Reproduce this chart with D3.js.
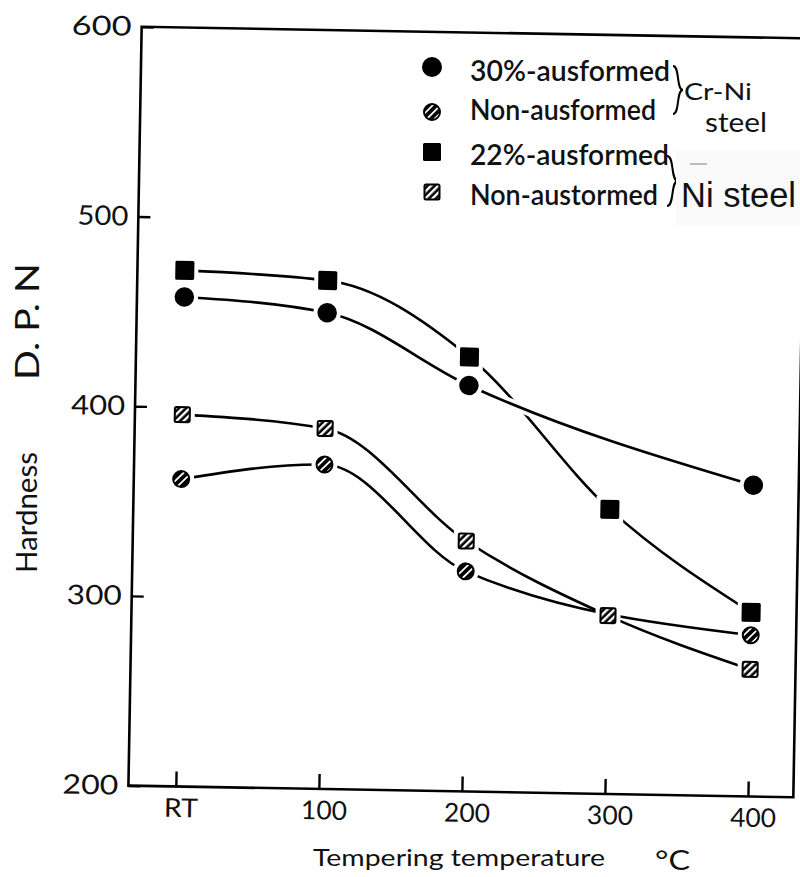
<!DOCTYPE html>
<html>
<head>
<meta charset="utf-8">
<script src="https://cdn.jsdelivr.net/npm/d3@7"></script>
<style>
  html, body { margin: 0; padding: 0; background: #fff; }
  text { font-family: Lato, "DejaVu Sans", sans-serif; fill: #111; }
</style>
</head>
<body>
<script>
// Tempering temperatures (RT = room temperature)
const categories = ["RT", "100", "200", "300", "400"];
const yTicks = [200, 300, 400, 500, 600];

// Hardness, D.P.N (null = not measured)
const crNiAusformed = [458, 451, 414, null, 364];  // 30%-ausformed Cr-Ni steel
const crNiNon       = [362, 371, 316, null, 285];  // non-ausformed Cr-Ni steel
const niAusformed   = [472, 468, 429, 350, 297];   // 22%-ausformed Ni steel
const niNon         = [396, 390, 332, 294, 267];   // non-ausformed Ni steel

const legendLabels = ["30%-ausformed", "Non-ausformed", "22%-ausformed", "Non-austormed"];
const groupLabels  = ["Cr-Ni", "steel", "Ni steel"];

const W = 800, H = 877;
const svg = d3.select("body").append("svg").attr("width", W).attr("height", H);
svg.append("rect").attr("width", W).attr("height", H).attr("fill", "#fff");

// hatch fills
const defs = svg.append("defs");
function hatch(id, period, white) {
  const p = defs.append("pattern").attr("id", id)
    .attr("patternUnits", "userSpaceOnUse")
    .attr("width", period).attr("height", period)
    .attr("patternTransform", "rotate(45)");
  p.append("rect").attr("width", period).attr("height", period).attr("fill", "#000");
  p.append("rect").attr("x", 0).attr("width", white).attr("height", period).attr("fill", "#fff");
}
hatch("hatchCircle", 5.5, 1.8);
hatch("hatchSquare", 5, 2.4);

// plot frame, slightly tilted
const frame = { left: 135, right: 800, top: 32.5, bottom: 791.5 };
const g = svg.append("g").attr("transform", "rotate(1,468,411.5)");

const x = d3.scalePoint().domain(categories).range([182.4, 754.6]);
const y = d3.scaleLinear().domain([200, 600]).range([frame.bottom, frame.top]);

g.append("rect")
  .attr("x", frame.left).attr("y", frame.top)
  .attr("width", frame.right - frame.left).attr("height", frame.bottom - frame.top)
  .attr("fill", "none").attr("stroke", "#000").attr("stroke-width", 2.6);

// y axis
const yAxis = g.append("g").attr("transform", `translate(${frame.left},0)`)
  .call(d3.axisLeft(y).tickValues(yTicks).tickFormat(d3.format("d")).tickSize(-12).tickPadding(10));
yAxis.select(".domain").remove();
yAxis.selectAll(".tick line").attr("stroke", "#000").attr("stroke-width", 2.4);
const yLen = { 200: 56, 300: 55, 400: 54, 500: 51, 600: 60 };
yAxis.selectAll(".tick text")
  .style("font-family", "Lato, sans-serif").attr("font-size", 27).attr("fill", "#111")
  .attr("textLength", d => yLen[d]).attr("lengthAdjust", "spacingAndGlyphs");

// x axis
const xAxis = g.append("g").attr("transform", `translate(0,${frame.bottom})`)
  .call(d3.axisBottom(x).tickSize(-15).tickPadding(12));
xAxis.select(".domain").remove();
xAxis.selectAll(".tick line").attr("stroke", "#000").attr("stroke-width", 2.4);
xAxis.selectAll(".tick text")
  .style("font-family", "Lato, sans-serif").attr("font-size", 26).attr("fill", "#111")
  .attr("dx", 5)
  .attr("textLength", d => d === "RT" ? 34 : 46).attr("lengthAdjust", "spacingAndGlyphs");

// curves
const series = [
  { values: niAusformed,   shape: "square", fill: "#000",              size: 19, halo: false },
  { values: niNon,         shape: "square", fill: "url(#hatchSquare)", size: 17, halo: false },
  { values: crNiNon,       shape: "circle", fill: "url(#hatchCircle)", size: 18, halo: false },
  { values: crNiAusformed, shape: "circle", fill: "#000",              size: 19.5, halo: true }
];
series.forEach(s => {
  s.points = categories.map((c, i) => ({ c, v: s.values[i] })).filter(p => p.v != null);
});

const line = d3.line().x(p => x(p.c)).y(p => y(p.v)).curve(d3.curveMonotoneX);
series.forEach(s => {
  if (s.halo) {
    g.append("path").attr("d", line(s.points))
      .attr("fill", "none").attr("stroke", "#fff").attr("stroke-width", 10);
  }
  g.append("path").attr("d", line(s.points))
    .attr("fill", "none").attr("stroke", "#000").attr("stroke-width", 2.6)
    .attr("stroke-linecap", "round");
});

// white gaps around the markers
const pad = 4;
series.forEach(s => {
  s.points.forEach(p => {
    if (s.shape === "circle") {
      g.append("circle").attr("cx", x(p.c)).attr("cy", y(p.v))
        .attr("r", s.size / 2 + pad).attr("fill", "#fff");
    } else {
      g.append("rect").attr("x", x(p.c) - s.size / 2 - pad).attr("y", y(p.v) - s.size / 2 - pad)
        .attr("width", s.size + 2 * pad).attr("height", s.size + 2 * pad).attr("fill", "#fff");
    }
  });
});

function drawMarker(sel, shape, cx, cy, size, fill) {
  const hatched = fill !== "#000";
  if (shape === "circle") {
    sel.append("circle").attr("cx", cx).attr("cy", cy)
      .attr("r", size / 2 - (hatched ? 1 : 0)).attr("fill", fill)
      .attr("stroke", hatched ? "#000" : "none").attr("stroke-width", 2);
  } else {
    const s = size - (hatched ? 2 : 0);
    sel.append("rect").attr("x", cx - s / 2).attr("y", cy - s / 2)
      .attr("width", s).attr("height", s).attr("rx", 1.5).attr("fill", fill)
      .attr("stroke", hatched ? "#000" : "none").attr("stroke-width", 2);
  }
}
series.forEach(s => {
  s.points.forEach(p => drawMarker(g, s.shape, x(p.c), y(p.v), s.size, s.fill));
});

// axis titles
svg.append("text").attr("x", 313).attr("y", 866)
  .attr("font-size", 24).attr("textLength", 292).attr("lengthAdjust", "spacingAndGlyphs")
  .text("Tempering temperature");
svg.append("text").attr("x", 655).attr("y", 870)
  .attr("font-size", 26).attr("textLength", 35).attr("lengthAdjust", "spacingAndGlyphs")
  .text("°C");
svg.append("text").attr("transform", "translate(39,321.5) rotate(-90)")
  .attr("text-anchor", "middle").attr("font-size", 33)
  .attr("textLength", 117).attr("lengthAdjust", "spacingAndGlyphs")
  .text("D. P. N");
svg.append("text").attr("transform", "translate(37,512.5) rotate(-90)")
  .attr("text-anchor", "middle").attr("font-size", 29)
  .attr("textLength", 121).attr("lengthAdjust", "spacingAndGlyphs")
  .text("Hardness");

// legend
const legend = svg.append("g");
const legendRows = [
  { shape: "circle", fill: "#000",              size: 20, my: 67,  ty: 81,  len: 200 },
  { shape: "circle", fill: "url(#hatchCircle)", size: 18, my: 112, ty: 120, len: 186 },
  { shape: "square", fill: "#000",              size: 18, my: 152, ty: 165, len: 199 },
  { shape: "square", fill: "url(#hatchSquare)", size: 17, my: 192, ty: 205, len: 188 }
];
legendRows.forEach((r, i) => {
  drawMarker(legend, r.shape, 432, r.my, r.size, r.fill);
  legend.append("text").attr("x", 470).attr("y", r.ty)
    .attr("font-size", 29).attr("font-weight", 600)
    .attr("textLength", r.len).attr("lengthAdjust", "spacingAndGlyphs")
    .text(legendLabels[i]);
});

// curly braces grouping the steels
function brace(x0, y1, y2, w) {
  const ym = (y1 + y2) / 2;
  return `M${x0},${y1} C${x0 + w * 0.7},${y1} ${x0 + w * 0.3},${ym} ${x0 + w},${ym} ` +
         `C${x0 + w * 0.3},${ym} ${x0 + w * 0.7},${y2} ${x0},${y2}`;
}
legend.append("path").attr("d", brace(673, 66, 114, 10))
  .attr("fill", "none").attr("stroke", "#000").attr("stroke-width", 2);
legend.append("path").attr("d", brace(667, 156, 206, 11))
  .attr("fill", "none").attr("stroke", "#000").attr("stroke-width", 2);

legend.append("text").attr("x", 684).attr("y", 100)
  .attr("font-size", 23).attr("textLength", 68).attr("lengthAdjust", "spacingAndGlyphs")
  .text(groupLabels[0]);
legend.append("text").attr("x", 705).attr("y", 132)
  .attr("font-size", 26).attr("textLength", 62).attr("lengthAdjust", "spacingAndGlyphs")
  .text(groupLabels[1]);

// pasted label for the Ni steel group
legend.append("rect").attr("x", 676).attr("y", 150).attr("width", 124).attr("height", 76)
  .attr("fill", "#fafafa");
legend.append("line").attr("x1", 690).attr("x2", 707).attr("y1", 164).attr("y2", 164)
  .attr("stroke", "#bbb").attr("stroke-width", 2);
legend.append("text").attr("x", 681).attr("y", 207)
  .style("font-family", "'Liberation Sans', Arial, sans-serif")
  .attr("font-size", 35).attr("textLength", 115).attr("lengthAdjust", "spacingAndGlyphs")
  .text(groupLabels[2]);
</script>
</body>
</html>
